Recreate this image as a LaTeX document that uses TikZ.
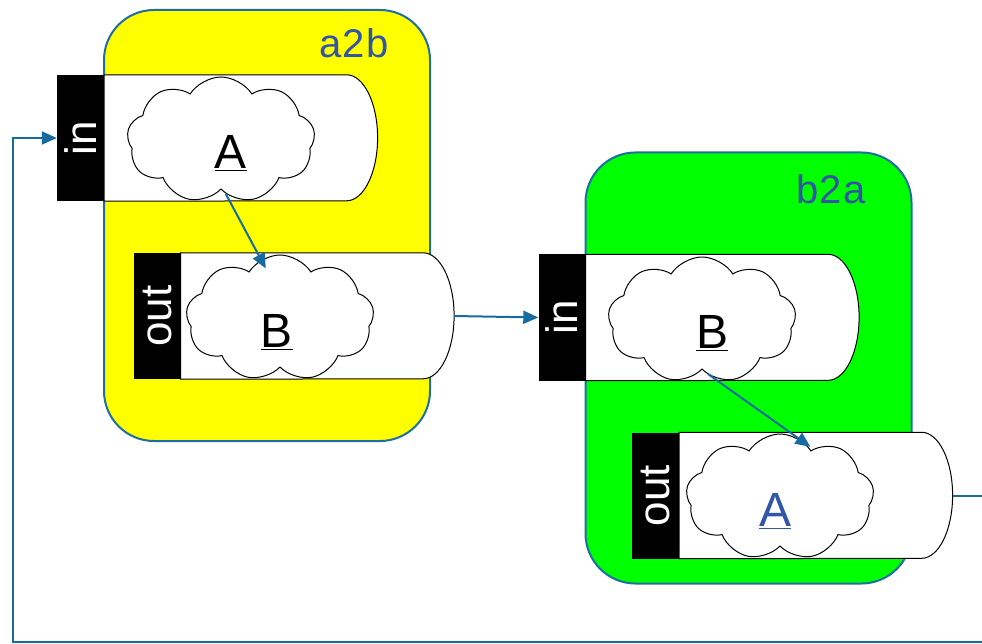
\documentclass[tikz,border=0pt]{standalone}
\usepackage{fontspec}
\setmainfont{Liberation Sans}
\usepackage{graphicx}
\usetikzlibrary{arrows.meta, positioning, shapes.symbols, calc}
\definecolor{frameblue}{RGB}{30,110,165}
\definecolor{linkblue}{RGB}{22,108,160}
\definecolor{labelblue}{RGB}{50,85,168}
\definecolor{boxyellow}{RGB}{255,255,0}
\definecolor{boxgreen}{RGB}{0,255,0}

\begin{document}
\begin{tikzpicture}[x=1pt, y=1pt,
    stage/.style={draw=frameblue, line width=2pt, rounded corners=50pt, minimum width=326pt, minimum height=431pt},
    stagename/.style={text=labelblue, font=\fontsize{40}{44}\selectfont\addfontfeature{LetterSpace=4}, inner sep=0pt},
    porttab/.style={fill=black, text=white, minimum width=47pt, minimum height=126pt, inner sep=0pt, font=\fontsize{44}{48}\selectfont},
    portbody/.style={minimum width=273pt, minimum height=126pt, inner sep=0pt},
    portline/.style={draw=black, line width=1pt, fill=white},
    blob/.style={cloud, cloud puffs=9, cloud puff arc=115, aspect=1.5, draw=black, line width=1pt, fill=white, minimum width=188pt, minimum height=126pt, inner sep=0pt},
    blobname/.style={font=\fontsize{48}{52}\selectfont, inner sep=0pt},
    link/.style={draw=linkblue, line width=2pt, -{Triangle[length=15pt, width=13pt]}}]
  \useasboundingbox (0,0) rectangle (982,-644);
  \clip (0,0) rectangle (982,-644);
  % stages
  \node[stage, fill=boxyellow] (a2b) at (267,-225.5) {};
  \node[stage, fill=boxgreen] (b2a) at (748.5,-368) {};
  \node[stagename] (a2b-name) at (354,-43) {a2b};
  \node[stagename] (b2a-name) at (831,-189) {b2a};
  % ports
  \foreach \port/\x/\y/\tag in {ain/80.5/138/in, aout/157/316/out, bin/562/317.5/in, bout/655.5/495.5/out}{
    \node[porttab] (\port-tab) at (\x,-\y) {\rotatebox{90}{\tag}};
    \node[portbody, right=0pt of \port-tab] (\port) {};
    \draw[portline] (\port.north west) -- ($(\port.north east)+(-31,0)$)
      arc[start angle=90, end angle=-90, x radius=31, y radius=63] -- (\port.south west) -- cycle;
  }
  % clouds
  \node[blob] (aA) at (221,-140) {};
  \node[blob] (aB) at (280,-318) {};
  \node[blob] (bB) at (702,-320) {};
  \node[blob] (bA) at (780,-497) {};
  \node[blobname] (aA-name) at (231,-153) {\underline{A}};
  \node[blobname] (aB-name) at (277,-332) {\underline{B}};
  \node[blobname] (bB-name) at (712,-333) {\underline{B}};
  \node[blobname, text=labelblue] (bA-name) at (775,-511) {\underline{A}};
  % connectors
  \draw[link, shorten >=-10pt] (aA.-85) -- (aB.108);
  \draw[link, shorten <=-5pt, shorten >=-14pt] (bB.-80) -- (bA.72);
  \draw[link] (aout.east) -- (bin-tab.west);
  \coordinate (loop) at (13,-642);
  \draw[link] (bout.east) -- ++(60,0) |- (loop) |- (ain-tab.west);
\end{tikzpicture}
\end{document}
